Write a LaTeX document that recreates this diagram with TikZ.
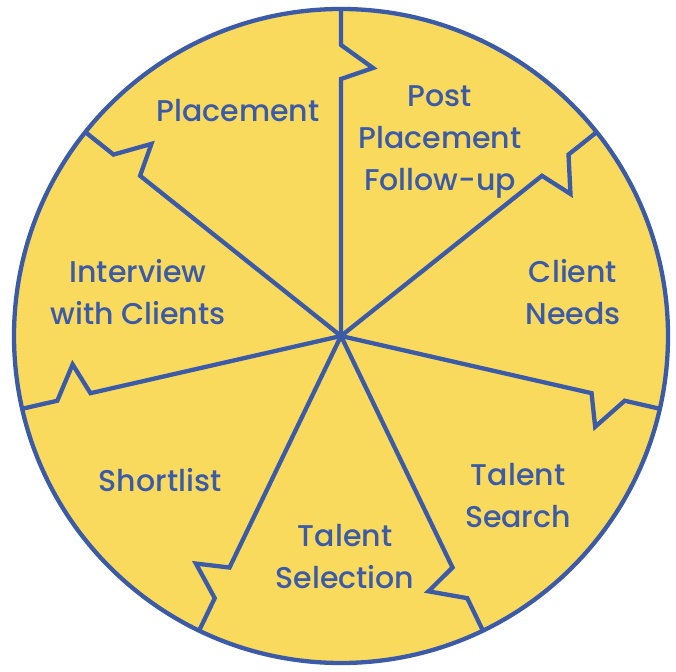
\documentclass[tikz,border=0pt]{standalone}
\usepackage{fontspec}
\setmainfont{Poppins}[UprightFont=* Medium]
\usepackage{tikz}
\usepackage{xcolor}
\definecolor{wheelblue}{HTML}{3B5BA8}
\definecolor{wheelyellow}{HTML}{F9DA5D}

\begin{document}
\begin{tikzpicture}[x=1pt, y=1pt,
    stage/.style={text=wheelblue, align=center,
      font=\fontsize{30}{42}\selectfont}]
\useasboundingbox (0,0) rectangle (676,671);
\coordinate (hub) at (341,335);

% wheel and the seven jigsaw spokes
\draw[wheelblue, fill=wheelyellow, line width=4.3pt] (hub) circle[radius=327];
\begin{scope}[shift={(hub)}]
\foreach \k in {0,...,6}
  \draw[wheelblue, line width=4.3pt, line join=miter, rotate={90-\k*360/7}]
    (0,0) -- (257,0) -- (268,-32) -- (291,0) -- (327,0);
\end{scope}

\node[stage] (placement) at (238,560) {Placement};
\node[stage] (followup) at (440,529) {Post\\Placement\\Follow-up};
\node[stage] (needs) at (573,379) {Client\\Needs};
\node[stage] (search) at (518,175) {Talent\\Search};
\node[stage] (selection) at (345,114) {Talent\\Selection};
\node[stage] (shortlist) at (160,191) {Shortlist};
\node[stage] (interview) at (138,379) {Interview\\with Clients};
\end{tikzpicture}
\end{document}
